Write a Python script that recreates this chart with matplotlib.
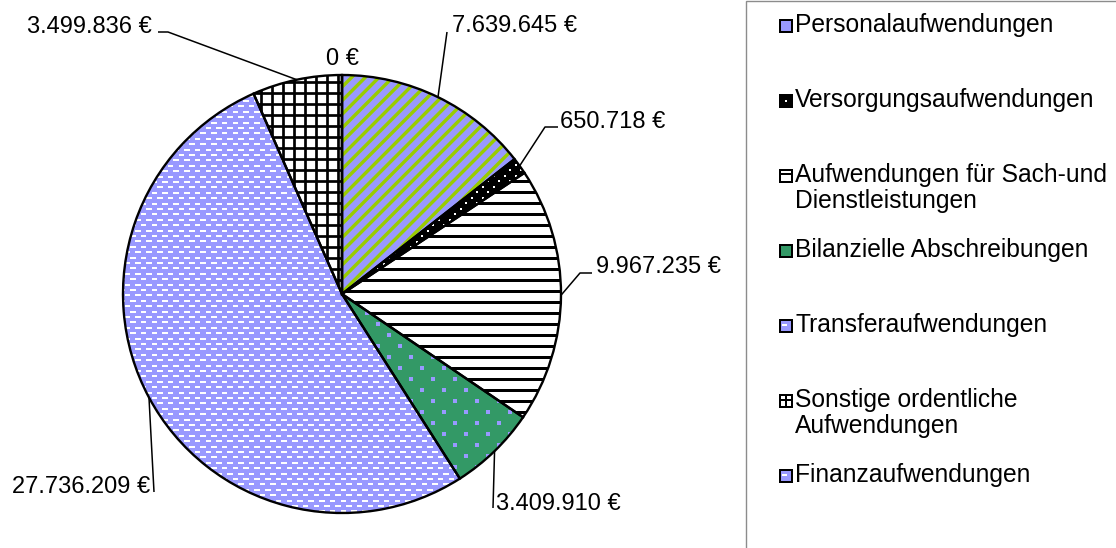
import numpy as np
import matplotlib
matplotlib.use("Agg")
import matplotlib.pyplot as plt
from matplotlib.patches import Rectangle, Wedge, Polygon
from matplotlib.collections import LineCollection

# ---------------- data ----------------
categories = ["Personalaufwendungen", "Versorgungsaufwendungen",
              "Aufwendungen für Sach-und\nDienstleistungen",
              "Bilanzielle Abschreibungen", "Transferaufwendungen",
              "Sonstige ordentliche\nAufwendungen", "Finanzaufwendungen"]
values = [7639645, 650718, 9967235, 3409910, 27736209, 3499836, 0]

LAV = "#9999FF"
LIME = "#99CC00"
GRN = "#339966"
face_colors = [LAV, "black", "white", GRN, LAV, "white", LAV]

plt.rcParams["font.family"] = ["Liberation Sans", "DejaVu Sans"]
FS = 17
FS_LEG = 17.7

W, H = 1116, 548
fig = plt.figure(figsize=(W / 100, H / 100), dpi=100)
ax = fig.add_axes([0, 0, 1, 1])


def py(y):
    return H - y


def fmt(v):
    return f"{v:,}".replace(",", ".") + " €"


cx, cy, R = 342, py(294), 219

wedges, _ = ax.pie(values, colors=face_colors, startangle=90, counterclock=False,
                   radius=R, center=(cx, cy),
                   wedgeprops=dict(linewidth=0, edgecolor="none"))
ax.set_xlim(0, W)
ax.set_ylim(0, H)
ax.set_aspect("auto")
ax.axis("off")

PX = 0.72  # points per pixel
x0, x1 = cx - R - 20, cx + R + 20
y0, y1 = cy - R - 20, cy + R + 20


def add_lines(segs, color, lw_px, w):
    lc = LineCollection(segs, colors=color, linewidths=lw_px * PX,
                        capstyle="butt", zorder=2)
    ax.add_collection(lc)
    lc.set_clip_path(w)


def add_dots(pts, color, size_px, w):
    pts = np.array(pts)
    sc = ax.scatter(pts[:, 0], pts[:, 1], s=(size_px * PX) ** 2, marker="s",
                    c=color, linewidths=0, zorder=2)
    sc.set_clip_path(w)


# Personal: lime diagonal stripes
segs = []
for c in np.arange(y0 - x1, y1 - x0, 13.7):
    segs.append([(x0, x0 + c), (x1, x1 + c)])
add_lines(segs, LIME, 3.4, wedges[0])

# Versorgung: white dots on black
pts = []
for j, yy in enumerate(np.arange(y0, y1, 5.5)):
    for xx in np.arange(x0 + (j % 2) * 5.5, x1, 11):
        pts.append((xx, yy))
add_dots(pts, "white", 2, wedges[1])

# Sach: horizontal black lines
segs = [[(x0, yy), (x1, yy)] for yy in np.arange(y0, y1, 11)]
add_lines(segs, "black", 3, wedges[2])

# Abschreibungen: lavender dots
pts = []
for j, yy in enumerate(np.arange(y0, y1, 11)):
    for xx in np.arange(x0 + (j % 2) * 11, x1, 22):
        pts.append((xx, yy))
add_dots(pts, LAV, 3.3, wedges[3])

# Transfer: white dashes
segs = []
for j, yy in enumerate(np.arange(y0, y1, 5.4)):
    for xx in np.arange(x0 + (j % 2) * 5.4, x1, 10.8):
        segs.append([(xx, yy), (xx + 5.6, yy)])
add_lines(segs, "white", 2, wedges[4])

# Sonstige: black grid
segs = [[(x0, yy), (x1, yy)] for yy in np.arange(y0, y1, 11)]
segs += [[(xx, y0), (xx, y1)] for xx in np.arange(x0 + 4, x1, 11)]
add_lines(segs, "black", 2.7, wedges[5])

# outlines
for w in wedges:
    ax.add_patch(Wedge(w.center, w.r, w.theta1, w.theta2, fill=False,
                       edgecolor="black", linewidth=1.7, zorder=4,
                       joinstyle="miter"))

# ---------------- value labels with leader lines ----------------
label_layout = [
    dict(path=[(447, 32)], text=(452, 32), ha="left"),
    dict(path=[(545, 127), (558, 127)], text=(560, 128), ha="left"),
    dict(path=[(580, 273), (592, 273)], text=(596, 273), ha="left"),
    dict(path=[(493, 508)], text=(496, 510), ha="left"),
    dict(path=[(154, 492)], text=(150, 493), ha="right"),
    dict(path=[(168, 32), (158, 32)], text=(152, 33), ha="right"),
    dict(path=[], text=(342, 65), ha="center"),
]

for w, v, lay in zip(wedges, values, label_layout):
    th = np.deg2rad((w.theta1 + w.theta2) / 2)
    ex, ey = w.center[0] + w.r * np.cos(th), w.center[1] + w.r * np.sin(th)
    if lay["path"]:
        xs = [ex] + [p[0] for p in lay["path"]]
        ys = [ey] + [py(p[1]) for p in lay["path"]]
        ax.plot(xs, ys, color="black", lw=1.1, zorder=5, solid_capstyle="butt")
    tx, ty = lay["text"]
    ax.text(tx, py(ty), fmt(v), ha=lay["ha"], va="baseline", fontsize=FS,
            color="black", zorder=6)

# ---------------- legend ----------------
ax.add_patch(Rectangle((746, -20), 500, H - 1 + 20, fill=False,
                       edgecolor="#8c8c8c", linewidth=1.0, zorder=1,
                       clip_on=False))

mx, msz = 779.5, 12
for i, (cat, fc) in enumerate(zip(categories, face_colors)):
    base = 32 + 75 * i
    for k, line in enumerate(cat.split("\n")):
        ax.text(795, py(base + 26 * k), line, ha="left", va="baseline",
                fontsize=FS_LEG, color="black")
    bx, by = mx, py(base)
    ax.add_patch(Rectangle((bx, by), msz, msz, facecolor=fc, edgecolor="none",
                           zorder=3))
    if i == 0:
        ax.add_patch(Polygon([(bx, by), (bx + 3, by), (bx, by + 3)],
                             facecolor=LIME, edgecolor="none", zorder=3))
    elif i == 1:
        ax.add_patch(Rectangle((bx + 5, by + 5), 2, 2, facecolor="white",
                               edgecolor="none", zorder=3))
    elif i == 2:
        ax.plot([bx, bx + msz], [by + 8, by + 8], color="black", lw=2 * PX,
                zorder=3, solid_capstyle="butt")
    elif i == 5:
        ax.plot([bx, bx + msz], [by + 7, by + 7], color="black", lw=2 * PX,
                zorder=3, solid_capstyle="butt")
        ax.plot([bx + 6, bx + 6], [by, by + msz], color="black", lw=2 * PX,
                zorder=3, solid_capstyle="butt")
    elif i in (4, 6):
        ax.plot([bx + 2, bx + 7], [by + 7, by + 7], color="white", lw=2 * PX,
                zorder=3, solid_capstyle="butt")
    ax.add_patch(Rectangle((bx, by), msz, msz, fill=False, edgecolor="black",
                           linewidth=2 * PX, zorder=4))

fig.savefig("out.png", dpi=100, facecolor="white")
